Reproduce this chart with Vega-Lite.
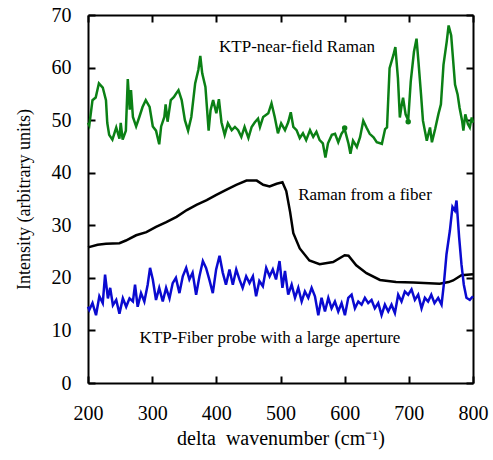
{
  "$schema": "https://vega.github.io/schema/vega-lite/v6.json",
  "autosize": {"type": "none"},
  "width": 385,
  "height": 368,
  "padding": {"left": 88, "top": 15, "right": 20, "bottom": 77},
  "background": "white",
  "config": {
    "view": {"stroke": null},
    "font": "'Liberation Serif', 'Times New Roman', serif",
    "axis": {
      "grid": false,
      "domainColor": "black",
      "domainWidth": 2,
      "tickColor": "black",
      "tickWidth": 2,
      "tickSize": -7,
      "labelFont": "'Liberation Serif', 'Times New Roman', serif",
      "labelFontSize": 20,
      "labelColor": "black",
      "titleFont": "'Liberation Serif', 'Times New Roman', serif",
      "titleFontSize": 19,
      "titleFontWeight": "normal",
      "titleColor": "black"
    }
  },
  "datasets": {
    "green": [
      {"x": 200, "y": 49.5}, {"x": 202, "y": 49}, {"x": 207, "y": 53.8}, {"x": 212, "y": 54.3}, {"x": 217, "y": 57}, {"x": 223, "y": 56.2}, {"x": 228, "y": 53.8}, {"x": 230, "y": 49.5}, {"x": 233, "y": 47.2}, {"x": 238, "y": 46.3}, {"x": 244, "y": 48.6}, {"x": 249, "y": 46.5}, {"x": 251, "y": 49.5}, {"x": 254, "y": 46.3}, {"x": 259, "y": 48}, {"x": 262, "y": 57.8}, {"x": 265, "y": 52}, {"x": 267, "y": 55.7}, {"x": 270, "y": 50.6}, {"x": 275, "y": 48.8}, {"x": 280, "y": 50.6}, {"x": 285, "y": 52.5}, {"x": 290, "y": 53.8}, {"x": 296, "y": 52.5}, {"x": 301, "y": 48.8}, {"x": 306, "y": 48}, {"x": 311, "y": 45.4}, {"x": 314, "y": 48.8}, {"x": 319, "y": 50.6}, {"x": 321, "y": 53}, {"x": 324, "y": 49.7}, {"x": 329, "y": 53.8}, {"x": 334, "y": 54.4}, {"x": 337, "y": 55}, {"x": 341, "y": 55.7}, {"x": 346, "y": 53.8}, {"x": 351, "y": 50}, {"x": 356, "y": 48}, {"x": 361, "y": 50.6}, {"x": 367, "y": 57}, {"x": 372, "y": 59.6}, {"x": 375, "y": 62.2}, {"x": 378, "y": 58.9}, {"x": 383, "y": 56.3}, {"x": 388, "y": 48}, {"x": 391, "y": 51.9}, {"x": 395, "y": 53.8}, {"x": 400, "y": 51.3}, {"x": 404, "y": 54}, {"x": 408, "y": 49.6}, {"x": 413, "y": 47.2}, {"x": 418, "y": 49.4}, {"x": 424, "y": 48.1}, {"x": 429, "y": 48.7}, {"x": 434, "y": 48.1}, {"x": 439, "y": 46.8}, {"x": 444, "y": 48.7}, {"x": 450, "y": 46.6}, {"x": 455, "y": 48.7}, {"x": 460, "y": 49.6}, {"x": 465, "y": 50.3}, {"x": 468, "y": 48.7}, {"x": 473, "y": 50.6}, {"x": 481, "y": 51.3}, {"x": 486, "y": 53.2}, {"x": 491, "y": 50.6}, {"x": 496, "y": 47.5}, {"x": 501, "y": 49.4}, {"x": 507, "y": 48.1}, {"x": 512, "y": 49.6}, {"x": 516, "y": 51.5}, {"x": 520, "y": 48.7}, {"x": 525, "y": 48.1}, {"x": 530, "y": 46.6}, {"x": 535, "y": 47.5}, {"x": 540, "y": 46.2}, {"x": 546, "y": 48.1}, {"x": 551, "y": 46.8}, {"x": 556, "y": 47.8}, {"x": 561, "y": 46.2}, {"x": 566, "y": 45.6}, {"x": 570, "y": 42.9}, {"x": 574, "y": 45.6}, {"x": 580, "y": 47.2}, {"x": 585, "y": 47.4}, {"x": 590, "y": 45.8}, {"x": 595, "y": 47.4}, {"x": 600, "y": 48.3}, {"x": 606, "y": 45.5}, {"x": 609, "y": 43.6}, {"x": 613, "y": 46.1}, {"x": 619, "y": 44.9}, {"x": 624, "y": 46.75}, {"x": 629, "y": 49.9}, {"x": 634, "y": 48.6}, {"x": 639, "y": 47.4}, {"x": 645, "y": 46.75}, {"x": 650, "y": 45.8}, {"x": 658, "y": 45.5}, {"x": 663, "y": 48.3}, {"x": 666, "y": 48.6}, {"x": 670, "y": 59.9}, {"x": 676, "y": 62.4}, {"x": 679, "y": 63.9}, {"x": 683, "y": 58}, {"x": 686, "y": 50.5}, {"x": 689, "y": 53}, {"x": 691, "y": 54.25}, {"x": 695, "y": 51.1}, {"x": 699, "y": 50}, {"x": 703, "y": 57.4}, {"x": 708, "y": 63}, {"x": 712, "y": 65.5}, {"x": 715, "y": 61.1}, {"x": 719, "y": 54.9}, {"x": 722, "y": 49.9}, {"x": 728, "y": 46.1}, {"x": 733, "y": 48.6}, {"x": 736, "y": 45.8}, {"x": 741, "y": 48.3}, {"x": 746, "y": 51.1}, {"x": 750, "y": 53}, {"x": 754, "y": 60.5}, {"x": 759, "y": 64.9}, {"x": 762, "y": 68}, {"x": 766, "y": 66.1}, {"x": 772, "y": 56.75}, {"x": 776, "y": 54.9}, {"x": 779, "y": 52.4}, {"x": 783, "y": 49.9}, {"x": 785, "y": 48}, {"x": 788, "y": 51.1}, {"x": 792, "y": 49.25}, {"x": 795, "y": 48.6}, {"x": 798, "y": 50.5}, {"x": 800, "y": 49.5}
    ],
    "greenDots": [
      {"x": 600, "y": 48.5}, {"x": 699, "y": 49.7}
    ],
    "black": [
      {"x": 200, "y": 25.8}, {"x": 215, "y": 26.3}, {"x": 228, "y": 26.5}, {"x": 249, "y": 26.6}, {"x": 259, "y": 27.1}, {"x": 275, "y": 28.1}, {"x": 291, "y": 28.7}, {"x": 306, "y": 29.7}, {"x": 322, "y": 30.6}, {"x": 338, "y": 31.6}, {"x": 354, "y": 32.9}, {"x": 369, "y": 33.9}, {"x": 385, "y": 34.8}, {"x": 400, "y": 35.8}, {"x": 416, "y": 36.8}, {"x": 431, "y": 37.7}, {"x": 447, "y": 38.5}, {"x": 463, "y": 38.5}, {"x": 473, "y": 37.7}, {"x": 483, "y": 37.4}, {"x": 494, "y": 37.9}, {"x": 503, "y": 38.2}, {"x": 509, "y": 36.5}, {"x": 515, "y": 32.5}, {"x": 520, "y": 28.5}, {"x": 530, "y": 25.6}, {"x": 545, "y": 23.3}, {"x": 561, "y": 22.6}, {"x": 582, "y": 23}, {"x": 600, "y": 24.3}, {"x": 606, "y": 24.2}, {"x": 618, "y": 22.4}, {"x": 634, "y": 20.9}, {"x": 655, "y": 19.6}, {"x": 680, "y": 19.2}, {"x": 707, "y": 19.1}, {"x": 748, "y": 18.9}, {"x": 762, "y": 19.2}, {"x": 769, "y": 19.5}, {"x": 782, "y": 20.5}, {"x": 800, "y": 20.7}
    ],
    "blue": [
      {"x": 200, "y": 14.5}, {"x": 202, "y": 13.9}, {"x": 207, "y": 15.2}, {"x": 212.5, "y": 12.9}, {"x": 217.7, "y": 16.5}, {"x": 223, "y": 15.2}, {"x": 226.6, "y": 20.6}, {"x": 231, "y": 16.1}, {"x": 234.6, "y": 18.1}, {"x": 238.8, "y": 14.8}, {"x": 244, "y": 15.8}, {"x": 249, "y": 13.2}, {"x": 254.3, "y": 16.1}, {"x": 259.5, "y": 14.5}, {"x": 264.7, "y": 16.1}, {"x": 270, "y": 15.5}, {"x": 273.3, "y": 18.7}, {"x": 277.4, "y": 14.5}, {"x": 282.6, "y": 17.1}, {"x": 287.8, "y": 15.5}, {"x": 293, "y": 18.7}, {"x": 296.7, "y": 21.9}, {"x": 301, "y": 19.7}, {"x": 306, "y": 15.8}, {"x": 311, "y": 18.1}, {"x": 316.5, "y": 15.5}, {"x": 321.7, "y": 18.1}, {"x": 327, "y": 16.1}, {"x": 332, "y": 19}, {"x": 337, "y": 20}, {"x": 342.5, "y": 17.1}, {"x": 347.7, "y": 20.3}, {"x": 353, "y": 21.9}, {"x": 358, "y": 19.7}, {"x": 363, "y": 21}, {"x": 368.5, "y": 16.8}, {"x": 373.7, "y": 20.3}, {"x": 379, "y": 23.2}, {"x": 384, "y": 21.9}, {"x": 389, "y": 19.7}, {"x": 394.5, "y": 17.1}, {"x": 399.7, "y": 21.6}, {"x": 405, "y": 24.2}, {"x": 410, "y": 21}, {"x": 415, "y": 18.7}, {"x": 420.5, "y": 21.6}, {"x": 425.7, "y": 18.7}, {"x": 431, "y": 21.6}, {"x": 436, "y": 19.7}, {"x": 441, "y": 18.1}, {"x": 446.5, "y": 20.3}, {"x": 451.7, "y": 19}, {"x": 457, "y": 20.3}, {"x": 462, "y": 16.5}, {"x": 467, "y": 19.4}, {"x": 472.5, "y": 18.4}, {"x": 477.7, "y": 21.9}, {"x": 483, "y": 20.3}, {"x": 488, "y": 21.6}, {"x": 493, "y": 19.7}, {"x": 498.5, "y": 23.2}, {"x": 503, "y": 18.1}, {"x": 507, "y": 21.3}, {"x": 512, "y": 16.8}, {"x": 517.4, "y": 18.7}, {"x": 522.6, "y": 16.2}, {"x": 527.7, "y": 18.1}, {"x": 533, "y": 15.5}, {"x": 538, "y": 17.4}, {"x": 543.3, "y": 16.2}, {"x": 548.5, "y": 18.1}, {"x": 553.7, "y": 16.5}, {"x": 558.9, "y": 12.9}, {"x": 564, "y": 16.2}, {"x": 569.3, "y": 13.6}, {"x": 574.5, "y": 16.2}, {"x": 579.6, "y": 14.2}, {"x": 584.8, "y": 15.5}, {"x": 590, "y": 13.6}, {"x": 595.2, "y": 15.2}, {"x": 600.4, "y": 12.9}, {"x": 605.6, "y": 16.2}, {"x": 610.8, "y": 16.8}, {"x": 616, "y": 14.2}, {"x": 621.2, "y": 15.5}, {"x": 626.4, "y": 14.9}, {"x": 631.5, "y": 16.2}, {"x": 636.7, "y": 15.2}, {"x": 641.9, "y": 15.8}, {"x": 647, "y": 14.2}, {"x": 652.3, "y": 15.2}, {"x": 657.5, "y": 12.9}, {"x": 662.7, "y": 14.9}, {"x": 667.9, "y": 13.6}, {"x": 673, "y": 14.9}, {"x": 678.3, "y": 13.3}, {"x": 683.4, "y": 16.8}, {"x": 688.6, "y": 15.5}, {"x": 693.8, "y": 17.4}, {"x": 699, "y": 16.8}, {"x": 704.2, "y": 17.8}, {"x": 709.4, "y": 15.8}, {"x": 714.6, "y": 16.8}, {"x": 719.8, "y": 14.2}, {"x": 725, "y": 16.2}, {"x": 730, "y": 15.5}, {"x": 735, "y": 16.8}, {"x": 740, "y": 15.2}, {"x": 745.7, "y": 16.2}, {"x": 751, "y": 14.9}, {"x": 754.5, "y": 18.7}, {"x": 758.7, "y": 24.5}, {"x": 764, "y": 29}, {"x": 768, "y": 33.5}, {"x": 771.7, "y": 32.8}, {"x": 774.3, "y": 34.7}, {"x": 778.4, "y": 27.7}, {"x": 782, "y": 22.6}, {"x": 785.7, "y": 18.7}, {"x": 789.8, "y": 16.2}, {"x": 795, "y": 15.8}, {"x": 800, "y": 16.5}
    ],
    "labels": [
      {"x": 525.7, "y": 63.9, "text": "KTP-near-field Raman"},
      {"x": 631.7, "y": 35.7, "text": "Raman from a fiber"},
      {"x": 483.6, "y": 8.6, "text": "KTP-Fiber probe with a large aperture"}
    ]
  },
  "resolve": {"axis": {"x": "independent", "y": "independent"}},
  "layer": [
    {
      "data": {"name": "green"},
      "mark": {"type": "line", "color": "#0b8015", "strokeWidth": 2.5},
      "encoding": {
        "x": {"field": "x", "type": "quantitative", "scale": {"domain": [200, 800], "nice": false},
          "axis": {"orient": "bottom", "values": [200, 300, 400, 500, 600, 700, 800], "title": "delta\u00a0 wavenumber (cm\u207b\u00b9)", "titleFontSize": 20, "labelPadding": 27, "titlePadding": 5, "labelFlush": false}},
        "y": {"field": "y", "type": "quantitative", "scale": {"domain": [0, 70], "nice": false},
          "axis": {"orient": "left", "values": [0, 10, 20, 30, 40, 50, 60, 70], "title": "Intensity (arbitrary units)", "titleFontSize": 18, "labelPadding": 24, "titlePadding": 18, "labelFlush": false}}
      }
    },
    {
      "data": {"name": "black"},
      "mark": {"type": "line", "color": "black", "strokeWidth": 2.5},
      "encoding": {
        "x": {"field": "x", "type": "quantitative",
          "axis": {"orient": "top", "values": [200, 300, 400, 500, 600, 700, 800], "labels": false, "title": null}},
        "y": {"field": "y", "type": "quantitative",
          "axis": {"orient": "right", "values": [0, 10, 20, 30, 40, 50, 60, 70], "labels": false, "title": null}}
      }
    },
    {
      "data": {"name": "blue"},
      "mark": {"type": "line", "color": "#0a0ad0", "strokeWidth": 2.5},
      "encoding": {
        "x": {"field": "x", "type": "quantitative", "axis": null},
        "y": {"field": "y", "type": "quantitative", "axis": null}
      }
    },
    {
      "data": {"name": "greenDots"},
      "mark": {"type": "point", "filled": true, "color": "#0b8015", "size": 30, "opacity": 1},
      "encoding": {
        "x": {"field": "x", "type": "quantitative", "axis": null},
        "y": {"field": "y", "type": "quantitative", "axis": null}
      }
    },
    {
      "data": {"name": "labels"},
      "mark": {"type": "text", "font": "'Liberation Serif', 'Times New Roman', serif", "fontSize": 17, "color": "black", "align": "center", "baseline": "middle"},
      "encoding": {
        "x": {"field": "x", "type": "quantitative", "axis": null},
        "y": {"field": "y", "type": "quantitative", "axis": null},
        "text": {"field": "text"}
      }
    }
  ]
}
